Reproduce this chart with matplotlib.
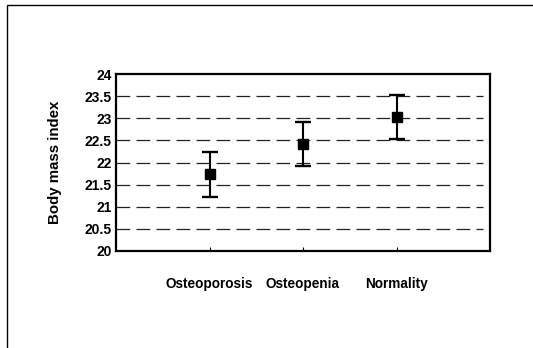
import matplotlib.pyplot as plt
from matplotlib.patches import Rectangle

# values
groups = ["Osteoporosis", "Osteopenia", "Normality"]
bmi_mean = [21.73, 22.42, 23.02]
bmi_err = [0.51, 0.5, 0.5]
y_ticks = [20, 20.5, 21, 21.5, 22, 22.5, 23, 23.5, 24]
y_tick_labels = ["20", "20.5", "21", "21.5", "22", "22.5", "23", "23.5", "24"]

plt.rcParams['font.family'] = ['Liberation Sans', 'DejaVu Sans']

fig = plt.figure(figsize=(5.33, 3.48), dpi=100)

# outer frame of the figure (only left and top edges show)
fig.patches.append(Rectangle((7 / 533, -0.2), 1.2, 1.2 - 5 / 348,
                             transform=fig.transFigure, fill=False,
                             edgecolor="black", linewidth=1.0))

ax = fig.add_axes([116 / 533, 1 - 251 / 348, 374 / 533, 177 / 348])

x = [1, 2, 3]
ax.errorbar(x, bmi_mean, yerr=bmi_err, fmt="s", color="black",
            markersize=7.5, capsize=5.5, elinewidth=1.5, capthick=1.7, zorder=3)

# dashed horizontal gridlines
for v in y_ticks[1:-1]:
    ax.plot([0, 3.93], [v, v], color="#222222", linestyle=(0, (11, 5)),
            linewidth=0.9, zorder=1)

ax.set_xlim(0, 4)
ax.set_ylim(20, 24)
ax.set_yticks(y_ticks)
ax.set_yticklabels(y_tick_labels, fontsize=10, fontweight="bold")
ax.tick_params(axis="y", length=0, pad=3)
ax.set_xticks(x)
ax.set_xticklabels(groups, fontsize=9.8, fontweight="bold")
ax.tick_params(axis="x", direction="in", length=3, width=0.8, pad=19)

ax.set_ylabel("Body mass index", fontsize=10.8, fontweight="bold", labelpad=16)

for s in ax.spines.values():
    s.set_linewidth(1.6)

fig.savefig("out.png", dpi=100)
